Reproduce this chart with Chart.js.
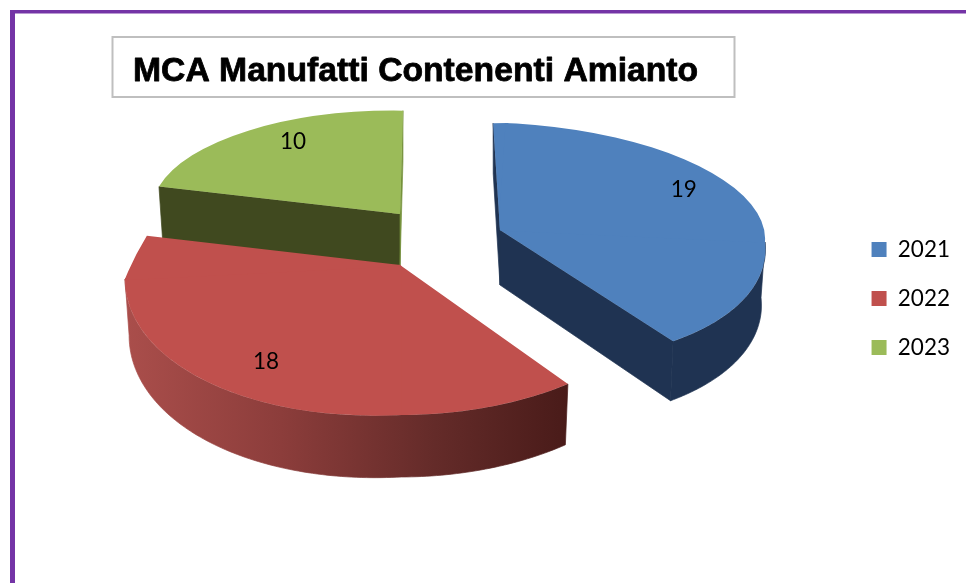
<!DOCTYPE html>
<html><head><meta charset="utf-8">
<style>html,body{margin:0;padding:0;background:#fff}canvas{display:block}</style>
<script src="https://cdn.jsdelivr.net/npm/chart.js@4"></script></head>
<body><canvas id="c" width="966" height="583"></canvas>
<script>
const categories = ['2021','2022','2023'];
const values = [19,18,10];
const colors = ['#4f81bd','#c0504d','#9bbb59'];
const titleText = 'MCA Manufatti Contenenti Amianto';

// 3D view settings (pseudo-perspective) for each slice: where the exploded tip lands,
// and where the four axis directions of the library's circular arc land on the page.
const pieCentre = [440,236];
const sliceShift = [[60,-6],[-40,29],[-40,-22]];
const axisNorth = [[7,-107],[96,-238],[16,-103]];
const axisEast  = [[265,12],[276,0],[248,9]];
const axisSouth = [[15,131],[0,150],[-16,103]];
const axisWest  = [[-265,0],[-275,14],[-248,-9]];
const depthBase = [55,56,54];
const cutStartColor = ['#1f3352',null,'#40491f'];
const cutEndColor = ['#1f3352',null,'#76923c'];
const labelAngleShift = [-13.2,7.55,5.5];
const labelRadius = [.817,.774,.81];
const drawOrder = [2,0,1];

function tipOf(i){return [pieCentre[0]+sliceShift[i][0],pieCentre[1]+sliceShift[i][1]];}
function rimPoint(i,theta,r){
  const u=Math.cos(theta)*r, v=Math.sin(theta)*r, A=tipOf(i);
  const X=u>=0?axisEast[i]:axisWest[i], Y=v>=0?axisSouth[i]:axisNorth[i];
  const au=Math.abs(u), av=Math.abs(v);
  return [A[0]+au*X[0]+av*Y[0], A[1]+au*X[1]+av*Y[1]];
}
function lowPoint(i,p){
  const A=tipOf(i);
  return [A[0]+(p[0]-A[0])*.985, p[1]+depthBase[i]+(p[1]-A[1])*.04];
}
function poly(ctx,pts,fill){
  if(!fill) return;
  ctx.beginPath();pts.forEach((p,k)=>k?ctx.lineTo(p[0],p[1]):ctx.moveTo(p[0],p[1]));
  ctx.closePath();ctx.fillStyle=fill;ctx.fill();
  ctx.strokeStyle=fill;ctx.lineWidth=.7;ctx.lineJoin='round';ctx.stroke();
}
const pie3d={
  id:'pie3d',
  beforeDraw(chart){
    const ctx=chart.ctx;
    ctx.save();
    ctx.fillStyle='#fff';ctx.fillRect(0,0,966,583);
    ctx.fillStyle='#7434a6';
    ctx.fillRect(10,10,956,3.5);ctx.fillRect(10,10,5,573);
    ctx.strokeStyle='#bfbfbf';ctx.lineWidth=2;ctx.strokeRect(112.5,37,622,60);
    ctx.restore();
  },
  beforeDatasetDraw(chart){
    const ctx=chart.ctx, arcs=chart.getDatasetMeta(0).data;
    // heavier title weight, over the title block the library has placed
    const tb=chart.titleBlock, tOpt=chart.options.plugins.title;
    ctx.save();
    ctx.font='bold '+tOpt.font.size+'px "Liberation Sans"';
    ctx.textAlign='left';ctx.textBaseline='middle';ctx.strokeStyle='#000';ctx.lineWidth=.8;ctx.lineJoin='round';
    ctx.strokeText(titleText,tb.left,tb.top+tOpt.padding.top+tOpt.font.size*1.2/2);
    ctx.restore();
    drawOrder.forEach(i=>{
      const arc=arcs[i],R=arc.outerRadius,a1=arc.startAngle,a2=arc.endAngle;
      const A=tipOf(i), Al=lowPoint(i,A);
      const p1=rimPoint(i,a1,1),p2=rimPoint(i,a2,1);
      poly(ctx,[A,p1,lowPoint(i,p1),Al],cutStartColor[i]);
      poly(ctx,[A,p2,lowPoint(i,p2),Al],cutEndColor[i]);
      if(i!==2){
        const w1=Math.max(a1,0),w2=Math.min(a2,Math.PI);
        const top=[],low=[];
        for(let k=0;k<=120;k++){
          const th=w1+(w2-w1)*k/120,p=rimPoint(i,th,1);
          top.push(p);low.unshift(lowPoint(i,p));
        }
        let fill='#1f3352';
        if(i===1){
          const g=ctx.createLinearGradient(126,0,568,0);
          g.addColorStop(0,'#aa4e4b');g.addColorStop(.35,'#8c3d3b');
          g.addColorStop(.7,'#642b29');g.addColorStop(1,'#491b19');
          fill=g;
        }
        poly(ctx,top.concat(low),fill);
      }
      [[1,1],[-1,1],[-1,-1],[1,-1]].forEach(([su,sv])=>{
        const X=su>0?axisEast[i]:axisWest[i], Y=sv>0?axisSouth[i]:axisNorth[i];
        ctx.save();
        ctx.transform(su*X[0]/R,su*X[1]/R,sv*Y[0]/R,sv*Y[1]/R,A[0],A[1]);
        ctx.translate(-arc.x,-arc.y);
        ctx.beginPath();
        ctx.rect(su>0?arc.x-1.2:arc.x-2*R, sv>0?arc.y-1.2:arc.y-2*R, 2*R+1.2, 2*R+1.2);
        ctx.clip();
        arc.draw(ctx);
        ctx.restore();
      });
    });
    ctx.save();
    ctx.fillStyle='#000';ctx.font='22.5px Lato';ctx.textAlign='center';ctx.textBaseline='middle';
    arcs.forEach((arc,i)=>{
      const th=(arc.startAngle+arc.endAngle)/2+labelAngleShift[i]*Math.PI/180;
      const p=rimPoint(i,th,labelRadius[i]);
      ctx.fillText(String(values[i]),p[0],p[1]);
    });
    ctx.restore();
    return false;
  }
};
new Chart(document.getElementById('c'),{
  type:'pie',
  data:{labels:categories,datasets:[{data:values,backgroundColor:colors,borderWidth:0}]},
  plugins:[pie3d],
  options:{
    responsive:false,animation:false,rotation:-3,
    layout:{padding:{left:133,right:6,top:14,bottom:0}},
    plugins:{
      tooltip:{enabled:false},
      title:{display:true,text:titleText,align:'start',color:'#000',
        font:{family:'"Liberation Sans"',size:33.7,weight:'bold'},padding:{top:37,bottom:37}},
      legend:{position:'right',align:'center',
        labels:{boxWidth:15,boxHeight:15,padding:26.5,color:'#000',font:{family:'Lato',size:22.5}}}
    }
  }
});
</script></body></html>
